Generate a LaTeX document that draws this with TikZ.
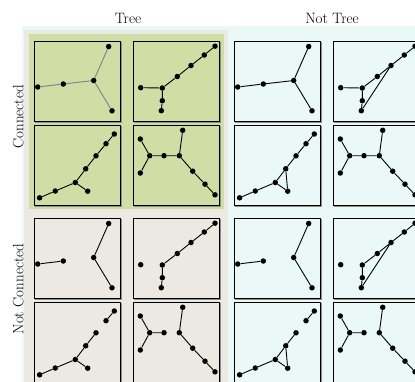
\documentclass[tikz,border=0pt]{standalone}
\usepackage{xcolor}

\definecolor{skyback}{RGB}{234,248,248}
\definecolor{treeback}{RGB}{236,233,226}
\definecolor{connback}{RGB}{208,222,166}

\tikzset{
  vtx/.style={circle, fill=black, inner sep=0pt, minimum size=5.5pt},
  edge/.style={line width=0.9pt},
  paleedge/.style={line width=0.9pt, gray},
  panel/.style={draw, line width=0.8pt, minimum width=86pt, minimum height=80pt, inner sep=0pt, anchor=north west},
  shade/.style={line width=1.2pt, black!45},
  heading/.style={font=\fontsize{15}{18}\selectfont, anchor=base},
}

% one box with its shadow on the right and below
\newcommand{\panelbox}[3]{%
  \node[panel] (#1) at (#2,#3) {};
  \draw[shade] ([xshift=0.9pt,yshift=-1.2pt]#1.north east) -- ([xshift=0.9pt,yshift=-0.9pt]#1.south east) -- ([xshift=1.2pt,yshift=-0.9pt]#1.south west);}

% the four vertex sets
\newcommand{\vertsA}[1]{%
  \node[vtx] (#1-1) at (3.7,46) {};
  \node[vtx] (#1-2) at (29.3,43) {};
  \node[vtx] (#1-3) at (59.7,39.5) {};
  \node[vtx] (#1-4) at (74.7,5.5) {};
  \node[vtx] (#1-5) at (78,69.8) {};}
\newcommand{\vertsB}[1]{%
  \node[vtx] (#1-1) at (7.7,46.7) {};
  \node[vtx] (#1-2) at (29.3,47) {};
  \node[vtx] (#1-3) at (29.3,59.7) {};
  \node[vtx] (#1-4) at (28.3,69.7) {};
  \node[vtx] (#1-5) at (44.3,35.5) {};
  \node[vtx] (#1-6) at (58,24.5) {};
  \node[vtx] (#1-7) at (71.3,14) {};
  \node[vtx] (#1-8) at (82,5.2) {};}
\newcommand{\vertsC}[1]{%
  \node[vtx] (#1-1) at (5.6,72.8) {};
  \node[vtx] (#1-2) at (21.3,66) {};
  \node[vtx] (#1-3) at (41.3,57.5) {};
  \node[vtx] (#1-4) at (53.7,66.2) {};
  \node[vtx] (#1-5) at (51.7,43.8) {};
  \node[vtx] (#1-6) at (62,30.8) {};
  \node[vtx] (#1-7) at (72,18.7) {};
  \node[vtx] (#1-8) at (80.3,9) {};}
\newcommand{\vertsD}[1]{%
  \node[vtx] (#1-1) at (7.3,14) {};
  \node[vtx] (#1-2) at (16.7,30.7) {};
  \node[vtx] (#1-3) at (7.3,48) {};
  \node[vtx] (#1-4) at (31,30.7) {};
  \node[vtx] (#1-5) at (46.3,30.7) {};
  \node[vtx] (#1-6) at (49.7,5.3) {};
  \node[vtx] (#1-7) at (59.7,46.2) {};
  \node[vtx] (#1-8) at (72,59.2) {};
  \node[vtx] (#1-9) at (82,69.8) {};}

\begin{document}
\begin{tikzpicture}[x=1pt, y=-1pt]
      \useasboundingbox (0,0) rectangle (415,381);
      \clip (0,0) rectangle (415,381);

      % backgrounds
      \fill[skyback] (22,26) rectangle (420,390);
      \fill[treeback] (24,30) rectangle (228,390);
      \fill[connback] (29,34) rectangle (224,209);

      % headings
      \node[heading] (tree) at (128,23) {Tree};
      \node[heading] (nottree) at (332,23) {Not Tree};
      \node[heading, rotate=90] (conn) at (23.3,116.7) {Connected};
      \node[heading, rotate=90] (notconn) at (23.3,289) {Not Connected};

      % boxes
      \panelbox{b11}{34}{41}   \panelbox{b12}{133}{41}  \panelbox{b13}{234}{41}  \panelbox{b14}{333}{41}
      \panelbox{b21}{34}{125}  \panelbox{b22}{133}{125} \panelbox{b23}{234}{125} \panelbox{b24}{333}{125}
      \panelbox{b31}{34}{218}  \panelbox{b32}{133}{218} \panelbox{b33}{234}{218} \panelbox{b34}{333}{218}
      \panelbox{b41}{34}{302}  \panelbox{b42}{133}{302} \panelbox{b43}{234}{302} \panelbox{b44}{333}{302}

      % connected trees
      \begin{scope}[shift={(34,41)}]
        \vertsA{g11}
        \draw[paleedge] (g11-1) -- (g11-2) -- (g11-3) -- (g11-4) (g11-3) -- (g11-5);
      \end{scope}
      \begin{scope}[shift={(133,41)}]
        \vertsB{g12}
        \draw[edge] (g12-1) -- (g12-2) -- (g12-3) -- (g12-4) (g12-2) -- (g12-5) -- (g12-6) -- (g12-7) -- (g12-8);
      \end{scope}
      \begin{scope}[shift={(34,125)}]
        \vertsC{g21}
        \draw[edge] (g21-1) -- (g21-2) -- (g21-3) -- (g21-4) (g21-3) -- (g21-5) -- (g21-6) -- (g21-7) -- (g21-8);
      \end{scope}
      \begin{scope}[shift={(133,125)}]
        \vertsD{g22}
        \draw[edge] (g22-1) -- (g22-2) -- (g22-3) (g22-2) -- (g22-4) -- (g22-5) -- (g22-6) (g22-5) -- (g22-7) -- (g22-8) -- (g22-9);
      \end{scope}

      % connected, not trees
      \begin{scope}[shift={(234,41)}]
        \vertsA{g13}
        \draw[edge] (g13-1) -- (g13-2) -- (g13-3) -- (g13-4) (g13-3) -- (g13-5);
      \end{scope}
      \begin{scope}[shift={(333,41)}]
        \vertsB{g14}
        \draw[edge] (g14-1) -- (g14-2) -- (g14-3) -- (g14-4) (g14-2) -- (g14-5) -- (g14-6) -- (g14-7) -- (g14-8) (g14-4) -- (g14-6);
      \end{scope}
      \begin{scope}[shift={(234,125)}]
        \vertsC{g23}
        \draw[edge] (g23-1) -- (g23-2) -- (g23-3) -- (g23-4) -- (g23-5) (g23-3) -- (g23-5) -- (g23-6) -- (g23-7) -- (g23-8);
      \end{scope}
      \begin{scope}[shift={(333,125)}]
        \vertsD{g24}
        \draw[edge] (g24-1) -- (g24-2) -- (g24-3) (g24-2) -- (g24-4) -- (g24-5) -- (g24-6) (g24-5) -- (g24-7) -- (g24-8) -- (g24-9);
      \end{scope}

      % forests
      \begin{scope}[shift={(34,218)}]
        \vertsA{g31}
        \draw[edge] (g31-1) -- (g31-2) (g31-4) -- (g31-3) -- (g31-5);
      \end{scope}
      \begin{scope}[shift={(133,218)}]
        \vertsB{g32}
        \draw[edge] (g32-4) -- (g32-3) -- (g32-2) -- (g32-5) -- (g32-6) -- (g32-7) -- (g32-8);
      \end{scope}
      \begin{scope}[shift={(34,302)}]
        \vertsC{g41}
        \draw[edge] (g41-1) -- (g41-2) -- (g41-3) -- (g41-4) (g41-3) -- (g41-5) -- (g41-6) (g41-7) -- (g41-8);
      \end{scope}
      \begin{scope}[shift={(133,302)}]
        \vertsD{g42}
        \draw[edge] (g42-1) -- (g42-2) -- (g42-3) (g42-2) -- (g42-4) (g42-6) -- (g42-5) -- (g42-7) -- (g42-8) -- (g42-9);
      \end{scope}

      % not connected, not trees
      \begin{scope}[shift={(234,218)}]
        \vertsA{g33}
        \draw[edge] (g33-1) -- (g33-2) (g33-4) -- (g33-3) -- (g33-5);
      \end{scope}
      \begin{scope}[shift={(333,218)}]
        \vertsB{g34}
        \draw[edge] (g34-4) -- (g34-3) -- (g34-2) -- (g34-5) -- (g34-6) -- (g34-7) -- (g34-8) (g34-4) -- (g34-6);
      \end{scope}
      \begin{scope}[shift={(234,302)}]
        \vertsC{g43}
        \draw[edge] (g43-1) -- (g43-2) -- (g43-3) -- (g43-4) -- (g43-5) (g43-3) -- (g43-5) -- (g43-6) (g43-7) -- (g43-8);
      \end{scope}
      \begin{scope}[shift={(333,302)}]
        \vertsD{g44}
        \draw[edge] (g44-1) -- (g44-2) -- (g44-3) (g44-2) -- (g44-4) (g44-6) -- (g44-5) -- (g44-7) -- (g44-8) -- (g44-9);
      \end{scope}
    \end{tikzpicture}
\end{document}
